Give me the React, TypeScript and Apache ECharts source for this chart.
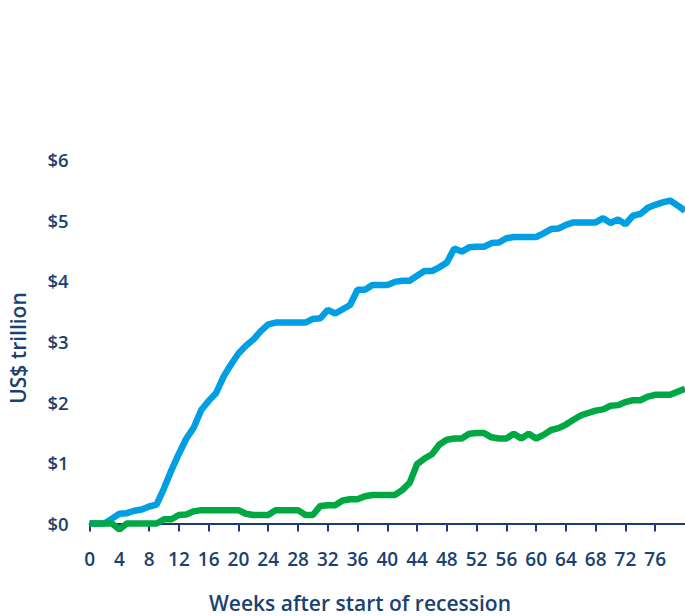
import React, { useEffect, useRef } from "react";
import * as echarts from "echarts";

// Weeks after the start of the recession (category axis, one point per week)
const weeks: string[] = Array.from({ length: 81 }, (_, i) => String(i));

// Cumulative amounts in US$ trillion
const blueSeries: number[] = [
  0, 0, 0, 0.08, 0.16, 0.17, 0.21, 0.23, 0.28, 0.31,
  0.58, 0.88, 1.15, 1.4, 1.58, 1.87, 2.02, 2.15, 2.42, 2.62,
  2.8, 2.93, 3.03, 3.17, 3.28, 3.31, 3.31, 3.31, 3.31, 3.31,
  3.37, 3.38, 3.52, 3.46, 3.53, 3.6, 3.85, 3.85, 3.93, 3.93,
  3.93, 3.98, 4.0, 4.0, 4.08, 4.16, 4.16, 4.22, 4.3, 4.53,
  4.48, 4.55, 4.56, 4.56, 4.62, 4.63, 4.7, 4.72, 4.72, 4.72,
  4.72, 4.78, 4.85, 4.86, 4.92, 4.96, 4.96, 4.96, 4.96, 5.03,
  4.95, 5.01, 4.93, 5.07, 5.1, 5.2, 5.25, 5.29, 5.32, 5.24,
  5.15,
];

const greenSeries: number[] = [
  0, 0, 0, 0, -0.1, 0, 0, 0, 0, 0,
  0.07, 0.07, 0.14, 0.15, 0.2, 0.22, 0.22, 0.22, 0.22, 0.22,
  0.22, 0.16, 0.14, 0.14, 0.14, 0.22, 0.22, 0.22, 0.22, 0.14,
  0.14, 0.29, 0.3, 0.3, 0.38, 0.4, 0.4, 0.45, 0.47, 0.47,
  0.47, 0.47, 0.55, 0.67, 0.98, 1.07, 1.14, 1.3, 1.38, 1.4,
  1.4, 1.48, 1.49, 1.49, 1.42, 1.4, 1.4, 1.48, 1.4, 1.48,
  1.4, 1.46, 1.54, 1.57, 1.63, 1.71, 1.78, 1.82, 1.86, 1.88,
  1.94, 1.95, 2.0, 2.03, 2.03, 2.09, 2.12, 2.12, 2.12, 2.17,
  2.22,
];

const yTicks = { min: 0, max: 6, step: 1 };

const NAVY = "#1a4170";
const AXIS = "#1c3a78";
const FONT = "'Open Sans', 'Noto Sans', sans-serif";

const showEvery4 = (index: number) => index % 4 === 0 && index < 80;

export default function App() {
  const ref = useRef<HTMLDivElement>(null);

  useEffect(() => {
    if (!ref.current) return;
    const chart = echarts.init(ref.current, undefined, { renderer: "svg" });
    chart.setOption({
      animation: false,
      backgroundColor: "#ffffff",
      grid: { left: 89.6, right: 0, top: 159.3, bottom: 92.5, containLabel: false },
      xAxis: {
        type: "category",
        data: weeks,
        boundaryGap: false,
        offset: 4,
        axisLine: { show: true, lineStyle: { color: AXIS, width: 2 } },
        axisTick: {
          show: true,
          interval: showEvery4,
          length: 8,
          lineStyle: { color: AXIS, width: 2 },
        },
        axisLabel: {
          interval: showEvery4,
          margin: 22,
          color: NAVY,
          fontSize: 19,
          fontWeight: 600,
          fontFamily: FONT,
        },
        splitLine: { show: false },
      },
      yAxis: {
        type: "value",
        min: yTicks.min,
        max: yTicks.max,
        interval: yTicks.step,
        axisLine: { show: false },
        axisTick: { show: false },
        splitLine: { show: false },
        axisLabel: {
          margin: 21,
          color: NAVY,
          fontSize: 18.5,
          fontWeight: 600,
          fontFamily: FONT,
          formatter: (v: number) => "$" + v,
        },
      },
      graphic: [
        {
          type: "text",
          x: 360,
          y: 603,
          style: {
            text: "Weeks after start of recession",
            fill: NAVY,
            fontSize: 21,
            fontWeight: 600,
            fontFamily: FONT,
            align: "center",
            verticalAlign: "middle",
          },
        },
        {
          type: "text",
          x: 18,
          y: 348,
          rotation: Math.PI / 2,
          style: {
            text: "US$ trillion",
            fill: NAVY,
            fontSize: 21,
            fontWeight: 600,
            fontFamily: FONT,
            align: "center",
            verticalAlign: "middle",
          },
        },
      ],
      series: [
        {
          name: "Blue",
          type: "line",
          data: blueSeries,
          symbol: "none",
          clip: false,
          lineStyle: { color: "#009fe3", width: 6.5 },
          z: 3,
        },
        {
          name: "Green",
          type: "line",
          data: greenSeries,
          symbol: "none",
          clip: false,
          lineStyle: { color: "#00a844", width: 6.5 },
          z: 4,
        },
      ],
    });
    return () => chart.dispose();
  }, []);

  return (
    <div
      ref={ref}
      style={{ position: "fixed", left: 0, top: 0, width: 685, height: 616 }}
    />
  );
}
